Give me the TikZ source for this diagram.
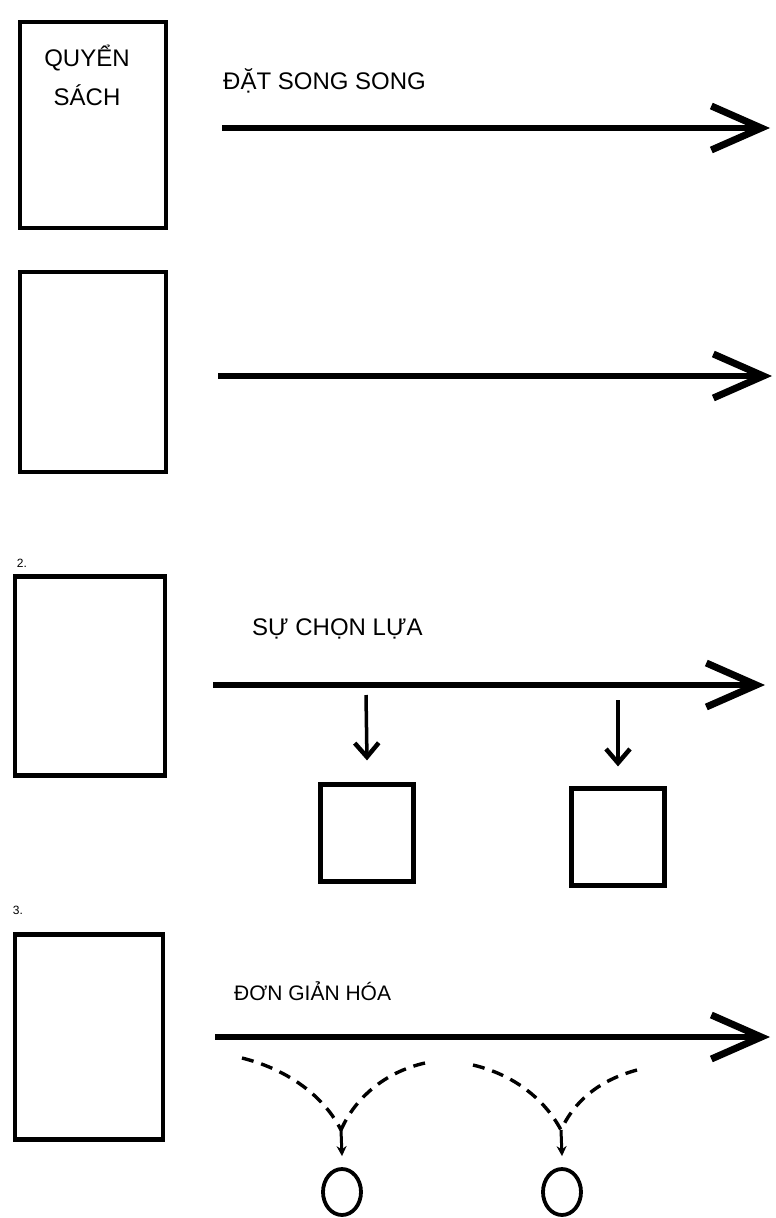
\documentclass[tikz,border=0pt]{standalone}
\usepackage{fontspec}
\setmainfont{Liberation Sans}
\usetikzlibrary{arrows.meta,shapes.geometric}

\begin{document}
\begin{tikzpicture}[x=1pt,y=-1pt,
   book/.style={draw, line width=4.5pt, rectangle, inner sep=0pt},
   small/.style={draw, line width=4.2pt, rectangle, inner sep=0pt, minimum width=93pt, minimum height=97pt},
   bigarrow/.style={line width=5.5pt, -{Straight Barb[length=50pt,width=44pt,line width=7pt]}},
   downarrow/.style={line width=3.5pt, -{Straight Barb[length=14pt,width=24pt,line width=4.5pt]}},
   dasharrow/.style={line width=3.4pt, dash pattern=on 12pt off 8pt},
   label/.style={font=\fontsize{24}{39}\selectfont, anchor=base west, inner sep=0pt},
   num/.style={font=\fontsize{12}{12}\selectfont, inner sep=0pt},
   ring/.style={draw, ellipse, line width=3.8pt, minimum width=38pt, minimum height=46pt}]
\useasboundingbox (0,0) rectangle (776,1218);

% 1. parallel
\node[book, minimum width=146pt, minimum height=206pt] (book1) at (93,125) {};
\node[font=\fontsize{24}{39}\selectfont, align=center, anchor=north, inner sep=0pt] (title) at (87,45) {QUYỂN\\SÁCH};
\node[label] (par) at (223,89) {ĐẶT SONG SONG};
\coordinate (a1s) at (222,128);
\coordinate (a1e) at (770,128);
\draw[bigarrow] (a1s) -- (a1e);

\node[book, minimum width=146pt, minimum height=200pt] (book2) at (93,372) {};
\coordinate (a2s) at (218,376);
\coordinate (a2e) at (772,376);
\draw[bigarrow] (a2s) -- (a2e);

% 2. selection
\node[num] (n2) at (22,563) {2.};
\node[book, minimum width=150pt, minimum height=199pt] (book3) at (90,676) {};
\node[label] (sel) at (252,635) {SỰ CHỌN LỰA};
\coordinate (a3s) at (213,685);
\coordinate (a3e) at (765,685);
\draw[bigarrow] (a3s) -- (a3e);
\node[small] (boxa) at (367,833) {};
\node[small] (boxb) at (618,837) {};
\coordinate (da) at (366,695);
\coordinate (db) at (618,700);
\draw[downarrow] (da) -- ([yshift=22pt]boxa.north);
\draw[downarrow] (db) -- ([yshift=20pt]boxb.north);

% 3. simplify
\node[num] (n3) at (18,910) {3.};
\node[book, minimum width=148pt, minimum height=205pt] (book4) at (89,1037) {};
\node[label, font=\fontsize{21}{21}\selectfont] (simp) at (234,1000) {ĐƠN GIẢN HÓA};
\coordinate (a4s) at (215,1037);
\coordinate (a4e) at (770,1037);
\draw[bigarrow] (a4s) -- (a4e);

\node[ring] (o1) at (342,1192) {};
\node[ring] (o2) at (562,1192) {};
\coordinate (m1) at (341,1130);
\coordinate (m2) at (561,1130);
\coordinate (l1) at (242,1058);
\coordinate (r1) at (425,1063);
\coordinate (l2) at (473,1065);
\coordinate (r2) at (637,1070);
\draw[dasharrow] (l1) .. controls (290,1070) and (325,1098) .. (m1);
\draw[dasharrow] (r1) .. controls (385,1072) and (355,1098) .. (m1);
\draw[dasharrow] (l2) .. controls (515,1075) and (545,1100) .. (m2);
\draw[dasharrow] (r2) .. controls (600,1080) and (575,1100) .. (m2);
\draw[line width=3pt, -{Stealth[length=10pt,width=10pt]}] (m1) -- ([yshift=11pt]o1.north);
\draw[line width=3pt, -{Stealth[length=10pt,width=10pt]}] (m2) -- ([yshift=11pt]o2.north);
\end{tikzpicture}
\end{document}
